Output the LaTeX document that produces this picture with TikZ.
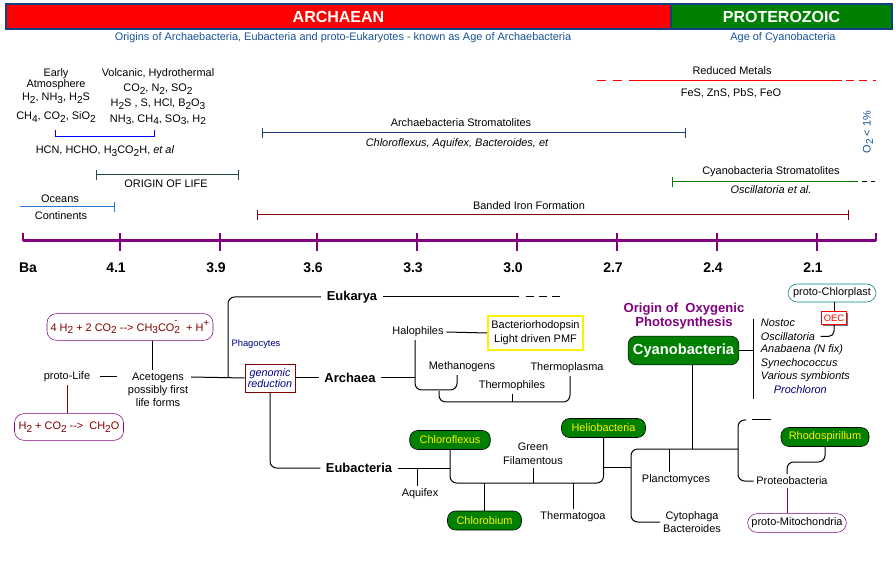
\documentclass[tikz,border=0pt]{standalone}
\usepackage{fontspec}
\setmainfont{Liberation Sans}
\usetikzlibrary{arrows.meta, positioning, shadows}

\definecolor{hdrblue}{RGB}{16,64,128}
\definecolor{subblue}{RGB}{24,82,150}
\definecolor{strblue}{RGB}{28,62,122}
\definecolor{oceanblue}{RGB}{40,124,214}
\definecolor{lifeteal}{RGB}{30,72,72}
\definecolor{ironred}{RGB}{128,0,0}
\definecolor{axpurple}{RGB}{128,0,128}
\definecolor{ogreen}{RGB}{0,128,0}
\definecolor{navytext}{RGB}{0,0,128}
\definecolor{plastteal}{RGB}{0,128,128}

\newcommand{\chsub}[1]{\raisebox{-0.45ex}{\fontsize{7.6}{7}\selectfont #1}}
\newcommand{\chsup}[1]{\raisebox{0.85ex}{\fontsize{7.6}{7}\selectfont #1}}
\newcommand{\chion}[2]{\rlap{\raisebox{1.25ex}{\fontsize{7}{7}\selectfont #2}}\chsub{#1}}

\tikzset{
  lbl/.style={font=\fontsize{8.2}{9.9}\selectfont, inner sep=2pt},
  spp/.style={font=\fontsize{8.2}{9.9}\selectfont\itshape, inner sep=2pt},
  clade/.style={font=\fontsize{9.7}{11}\selectfont\bfseries, inner xsep=4pt, inner ysep=1pt},
  yr/.style={font=\fontsize{10.5}{12}\selectfont\bfseries, inner sep=1pt},
  agebox/.style={draw=hdrblue, line width=1.5pt, text=white, font=\fontsize{12}{14}\selectfont\bfseries, minimum height=18.75pt, inner sep=0pt},
  agenote/.style={lbl, text=subblue},
  span/.style={line width=0.75pt, arrows={Bar[width=8pt]-Bar[width=8pt]}},
  link/.style={line width=0.75pt},
  fork/.style={link, rounded corners=5pt},
  phylum/.style={lbl, draw=black, fill=ogreen, text=yellow, rounded corners=6pt, minimum height=14.25pt},
  pill/.style={lbl, draw, fill=white, rounded corners=7pt, minimum height=14pt},
  eqbox/.style={pill, draw=axpurple, text=ironred, minimum height=20pt},
  notebox/.style={lbl, fill=white, drop shadow={shadow xshift=1pt, shadow yshift=-1pt, fill=black!55, opacity=1}},
}

\begin{document}
\begin{tikzpicture}[x=0.75pt, y=-0.75pt]
\useasboundingbox (0,0) rectangle (896,566);

% Eons
\node[agebox, fill=red, minimum width=498.75pt] (archaean) at (338.5,16.5) {ARCHAEAN};
\node[agebox, fill=ogreen, minimum width=165.75pt] (proterozoic) at (781.5,16.5) {PROTEROZOIC};
\node[agenote] (archnote) at (343,38) {Origins of Archaebacteria, Eubacteria and proto-Eukaryotes - known as Age of Archaebacteria};
\node[agenote] (protnote) at (783,38) {Age of Cyanobacteria};

% Early chemistry
\node[lbl, align=center, anchor=north, font=\fontsize{8.2}{8.25}\selectfont] (atmos) at (56,66) {Early\\Atmosphere\\[1.5pt]H\chsub2, NH\chsub3, H\chsub2S\\[6pt]CH\chsub4, CO\chsub2, SiO\chsub2};
\node[lbl, align=center, anchor=north, font=\fontsize{8.2}{11.3}\selectfont] (volcanic) at (158,66) {Volcanic, Hydrothermal\\CO\chsub2, N\chsub2, SO\chsub2\\H\chsub2S , S, HCl, B\chsub2O\chsub3\\NH\chsub3, CH\chsub4, SO\chsub3, H\chsub2};
\coordinate (brL) at (55,130);
\coordinate (brR) at (154,130);
\draw[link, blue] (brL) -- ++(0,7) -| (brR);
\node[lbl] (organics) at (105,151) {HCN, HCHO, H\chsub3CO\chsub2H, \textit{et al}};

% Time spans
\coordinate (lifeL) at (96,175);
\coordinate (lifeR) at (239,175);
\draw[span, lifeteal] (lifeL) -- (lifeR);
\node[lbl] (life) at (166,184) {ORIGIN OF LIFE};

\coordinate (oceanL) at (20,207);
\coordinate (oceanR) at (115,207);
\draw[link, oceanblue, arrows={-Bar[width=8pt]}] (oceanL) -- (oceanR);
\node[lbl] (ocean) at (60,199) {Oceans};
\node[lbl] (continent) at (61,216) {Continents};

\coordinate (astrL) at (262,133);
\coordinate (astrR) at (686,133);
\draw[span, strblue] (astrL) -- (astrR);
\node[lbl] (astrom) at (461,123) {Archaebacteria Stromatolites};
\node[spp] (astromsp) at (457,144) {Chloroflexus, Aquifex, Bacteroides, et};

\coordinate (rm0) at (597,81);
\coordinate (rm1) at (630,81);
\coordinate (rm2) at (842,81);
\coordinate (rm3) at (876,81);
\draw[link, red, dash pattern=on 7pt off 5pt] (rm0) -- (rm1);
\draw[link, red] (rm1) -- (rm2);
\draw[link, red, dash pattern=on 6pt off 4pt] ([xshift=3pt]rm2) -- (rm3);
\node[lbl] (redmet) at (732,71) {Reduced Metals};
\node[lbl] (sulfides) at (731,93) {FeS, ZnS, PbS, FeO};

\coordinate (cstrL) at (672,182);
\coordinate (cstrR) at (858,182);
\coordinate (cstrE) at (876,182);
\draw[link, ogreen, arrows={Bar[width=8pt]-}] (cstrL) -- (cstrR);
\draw[link, dash pattern=on 3.5pt off 3pt] ([xshift=3pt]cstrR) -- (cstrE);
\node[lbl] (cstrom) at (771,172) {Cyanobacteria Stromatolites};
\node[spp] (cstromsp) at (771,190) {Oscillatoria et al.};

\node[lbl, text=subblue, rotate=90] (oxy) at (868,132) {O\chsub2 < 1\%};

\coordinate (bifL) at (257,215);
\coordinate (bifR) at (849,215);
\draw[span, ironred] (bifL) -- (bifR);
\node[lbl] (bif) at (529,206) {Banded Iron Formation};

% Time axis
\coordinate (ax0) at (23,241);
\coordinate (ax1) at (876,241);
\draw[axpurple, line width=2.25pt] (ax0) -- (ax1);
\draw[axpurple, line width=1.1pt] (ax0) -- ++(0,-8);
\draw[axpurple, line width=1.1pt] (ax1) -- ++(0,-8);
\foreach \x/\myr in {120/4.1, 220/3.9, 317/3.6, 417/3.3, 517/3.0, 617/2.7, 717/2.4, 817/2.1}{
  \draw[axpurple, line width=1.1pt] (\x,233) -- (\x,251);
  \node[yr] (ba\x) at (\x-4,268) {\myr};
}
\node[yr] (ba) at (28,268) {Ba};

% Proto-life
\node[eqbox, minimum width=124.5pt] (acetate) at (130,327) {4 H\chsub2 + 2 CO\chsub2 {-}{-}> CH\chsub3CO\chion{2}{-}\ \ + H\chsup{+}};
\node[lbl] (protolife) at (67,377) {proto-Life};
\node[lbl, align=center, font=\fontsize{8.2}{9.8}\selectfont, anchor=north] (aceto) at (158,370) {Acetogens\\possibly first\\life forms};
\node[eqbox, minimum width=81.75pt] (formald) at (69,427) {H\chsub2 + CO\chsub2 {-}{-}>\ \ CH\chsub2O};
\draw[link, shorten <=5pt, shorten >=6pt] (protolife.east) -- (protolife.east -| aceto.west);
\draw[link, ironred] (protolife.south) -- (protolife.south |- formald.north);
\draw[link] ([xshift=-4.5pt]aceto.north) -- ([xshift=-4.5pt]aceto.north |- acetate.south);

% Domains
\node[notebox, draw=ironred, text=navytext, font=\fontsize{8.1}{8.5}\selectfont\itshape, align=center, minimum width=37.5pt, minimum height=21pt, inner sep=1pt] (genomic) at (270,378) {genomic\\reduction};
\node[lbl, text=navytext, font=\fontsize{7}{8}\selectfont] (phago) at (256,344) {Phagocytes};
\node[clade] (eukarya) at (352,297) {Eukarya};
\node[clade] (archaea) at (350,378) {Archaea};
\node[clade] (eubact) at (359,468) {Eubacteria};
\coordinate (phagJ) at (228,377);
\draw[link] (aceto.east |- protolife) -- (genomic.west);
\draw[fork] (phagJ) |- (eukarya.west);
\draw[link] (genomic.east) -- (archaea.west);
\draw[fork] (genomic.south) |- (eubact.west);

\coordinate (eukS) at (519,297);
\coordinate (eukE) at (560,297);
\draw[link] (eukarya.east) -- (eukS);
\draw[link, dash pattern=on 6pt off 3.75pt] ([xshift=5pt]eukS) -- (eukE);

% Archaea
\node[lbl] (halo) at (418,332) {Halophiles};
\node[lbl, draw=yellow, line width=1.5pt, align=center, minimum width=71pt, minimum height=25pt, font=\fontsize{8.2}{10.5}\selectfont] (bacterio) at (535.5,333) {Bacteriorhodopsin\\Light driven PMF};
\node[lbl] (methano) at (462,367) {Methanogens};
\node[lbl] (thermoph) at (512,386) {Thermophiles};
\node[lbl] (thermopl) at (567,368) {Thermoplasma};
\coordinate (arcJ) at (415,378);
\coordinate (arcB) at (457,390);
\coordinate (thB) at (439,391);
\coordinate (thR) at (570,402);
\draw[link] (archaea.east) -- (arcJ);
\draw[link] (halo.east) -- (bacterio.west);
\draw[fork] (halo.south -| arcJ) |- (arcB) -- (arcB |- methano.south);
\draw[fork] (thB) |- (thR) -- (thR |- thermopl.south);
\draw[link] (thermoph.south) -- (thermoph.south |- thR);

% Eubacteria
\node[phylum, minimum width=60.5pt] (chlorofl) at (450,440) {Chloroflexus};
\node[phylum, minimum width=63pt] (helio) at (603.5,428) {Heliobacteria};
\node[phylum, minimum width=55.5pt] (chlorob) at (484.5,520.5) {Chlorobium};
\node[lbl] (aquifex) at (420,494) {Aquifex};
\node[lbl, align=center, font=\fontsize{8.2}{10.5}\selectfont] (greenfil) at (533,454) {Green\\Filamentous};
\node[lbl] (thermatog) at (573,517) {Thermatogoa};
\coordinate (aqJ) at (417,468);
\coordinate (eubB) at (452,483);
\coordinate (eubJ) at (604,467);
\draw[link] (eubact.east) -- (eubact.east -| chlorofl.south);
\draw[link] (aqJ) -- (aqJ |- aquifex.north);
\draw[fork] (chlorofl.south) |- (eubB -| helio.south) -- (helio.south);
\draw[link] (greenfil.south) -- (greenfil.south |- eubB);
\draw[link] (chlorob.north) -- (chlorob.north |- eubB);
\draw[link] (thermatog.north) -- (thermatog.north |- eubB);

% Cyanobacteria
\node[lbl, text=axpurple, font=\fontsize{9.8}{10.5}\selectfont\bfseries, align=center] (oxygenic) at (684,316) {Origin of\ \ Oxygenic\\Photosynthesis};
\node[phylum, text=white, font=\fontsize{11}{13}\selectfont\bfseries, minimum width=83pt, minimum height=21.5pt] (cyano) at (683.5,350.5) {Cyanobacteria};
\coordinate (cyL) at (631,449);
\coordinate (cyR) at (738,449);
\coordinate (cyJ) at (692,449);
\draw[link] (cyJ |- cyano.south) -- (cyJ);
\draw[link] (eubJ) -- (eubJ -| cyL);

\node[lbl, align=center, font=\fontsize{8.2}{9.5}\selectfont] (cytoph) at (692,522) {Cytophaga\\Bacteroides};
\node[lbl] (planct) at (676,480) {Planctomyces};
\node[lbl] (proteo) at (792,481) {Proteobacteria};
\node[phylum, minimum width=66pt] (rhodo) at (825,437) {Rhodospirillum};
\node[pill, draw=axpurple, minimum width=74pt] (mito) at (797,523) {proto-Mitochondria};
\coordinate (plJ) at (669,449);
\coordinate (prT) at (746,420);
\coordinate (prD0) at (752,420);
\coordinate (prD1) at (771,420);
\coordinate (rhJ) at (787,462);
\draw[fork] (cytoph.west) -| (cyL) -- (cyR);
\draw[link] (plJ) -- (plJ |- planct.north);
\draw[fork] (prT) -| (cyR) |- (proteo.west);
\draw[link] (prD0) -- (prD1);
\draw[fork] (rhodo.south) |- (rhJ) -- (rhJ |- proteo.north);
\draw[link, axpurple] (rhJ |- proteo.south) -- (rhJ |- mito.north);

% Species
\coordinate (spT) at (753,319);
\coordinate (spB) at (753,399);
\draw[link] (cyano.east) -- (cyano.east -| spT);
\draw[link] (spT) -- (spB);
\foreach \sp/\name [count=\i] in {nostoc/Nostoc, oscill/Oscillatoria, anab/Anabaena (N fix), synech/Synechococcus, symb/Various symbionts}
  \node[spp, anchor=west] (\sp) at (758,{323+13.4*(\i-1)}) {\name};
\node[spp, anchor=west, text=navytext] (prochl) at (771,390) {Prochloron};

\node[notebox, draw=red, text=red, font=\fontsize{7}{8}\selectfont, minimum width=19pt, minimum height=10pt, inner sep=1pt] (oec) at (834,318) {OEC};
\node[pill, draw=plastteal, minimum width=66pt, minimum height=13.5pt] (plast) at (832,293) {proto-Chlorplast};
\draw[link, rounded corners=4pt] ([xshift=2pt]oscill.east) -| (oec.south);
\draw[link] (oec.north) -- (oec.north |- plast.south);
\end{tikzpicture}
\end{document}
